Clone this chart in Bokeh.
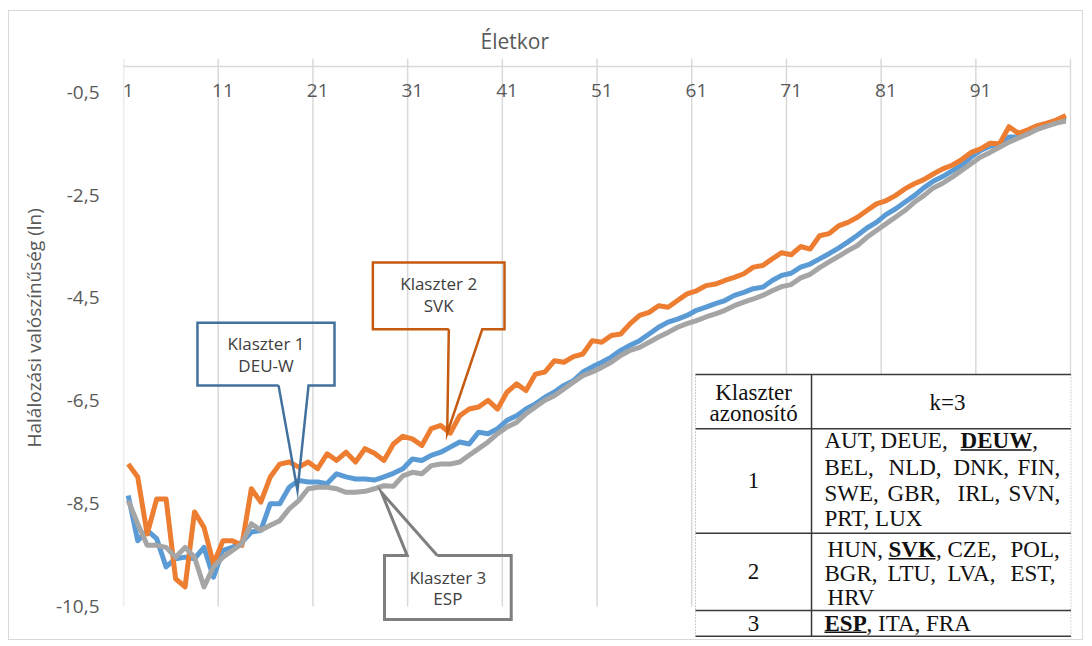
from bokeh.plotting import figure
from bokeh.models import FixedTicker, Range1d, Title
from bokeh.core.properties import value
from bokeh.embed import file_html
from bokeh.resources import INLINE

# ---------------- data ----------------
ages = list(range(1, 101))

klaszter1_deuw = [
    -8.34, -9.22, -9.02, -9.18, -9.73, -9.57, -9.54, -9.57, -9.35, -9.93,
    -9.41, -9.35, -9.25, -9.05, -9.02, -8.50, -8.50, -8.18, -8.05, -8.08,
    -8.08, -8.11, -7.92, -7.98, -8.02, -8.02, -8.04, -7.98, -7.91, -7.82,
    -7.63, -7.66, -7.56, -7.50, -7.40, -7.30, -7.34, -7.11, -7.14, -7.04,
    -6.88, -6.79, -6.66, -6.56, -6.43, -6.33, -6.20, -6.11, -5.94, -5.84,
    -5.75, -5.65, -5.52, -5.42, -5.33, -5.20, -5.07, -4.97, -4.91, -4.84,
    -4.74, -4.68, -4.61, -4.55, -4.45, -4.39, -4.32, -4.29, -4.16, -4.06,
    -4.02, -3.90, -3.84, -3.74, -3.64, -3.53, -3.41, -3.28, -3.14, -3.03,
    -2.88, -2.77, -2.64, -2.51, -2.36, -2.23, -2.14, -2.03, -1.92, -1.76,
    -1.63, -1.55, -1.50, -1.37, -1.37, -1.28, -1.19, -1.13, -1.06, -1.00,
]

klaszter2_svk = [
    -7.73, -7.98, -9.09, -8.41, -8.41, -9.96, -10.12, -8.66, -8.96, -9.67,
    -9.22, -9.22, -9.31, -8.21, -8.47, -7.98, -7.73, -7.69, -7.79, -7.69,
    -7.82, -7.53, -7.66, -7.50, -7.69, -7.43, -7.52, -7.66, -7.34, -7.19,
    -7.24, -7.37, -7.04, -6.98, -7.13, -6.79, -6.66, -6.62, -6.49, -6.66,
    -6.33, -6.17, -6.30, -5.98, -5.94, -5.72, -5.75, -5.64, -5.59, -5.33,
    -5.36, -5.23, -5.20, -5.00, -4.84, -4.78, -4.65, -4.68, -4.55, -4.42,
    -4.36, -4.26, -4.23, -4.16, -4.10, -4.03, -3.90, -3.87, -3.74, -3.62,
    -3.66, -3.50, -3.55, -3.29, -3.25, -3.10, -3.03, -2.93, -2.80, -2.67,
    -2.61, -2.51, -2.38, -2.28, -2.20, -2.09, -1.99, -1.92, -1.81, -1.67,
    -1.60, -1.49, -1.50, -1.17, -1.30, -1.23, -1.15, -1.10, -1.04, -0.95,
]

klaszter3_esp = [
    -8.44, -8.89, -9.31, -9.31, -9.35, -9.54, -9.35, -9.54, -10.12, -9.73,
    -9.54, -9.41, -9.28, -8.89, -9.02, -8.92, -8.83, -8.60, -8.44, -8.21,
    -8.18, -8.18, -8.21, -8.28, -8.28, -8.26, -8.21, -8.15, -8.16, -7.96,
    -7.89, -7.92, -7.76, -7.73, -7.73, -7.69, -7.56, -7.43, -7.30, -7.14,
    -7.01, -6.92, -6.75, -6.62, -6.49, -6.40, -6.27, -6.14, -6.01, -5.94,
    -5.85, -5.75, -5.62, -5.52, -5.46, -5.36, -5.26, -5.17, -5.07, -5.00,
    -4.94, -4.87, -4.81, -4.74, -4.65, -4.58, -4.52, -4.45, -4.36, -4.28,
    -4.24, -4.11, -4.04, -3.91, -3.80, -3.69, -3.58, -3.48, -3.32, -3.19,
    -3.06, -2.93, -2.80, -2.64, -2.51, -2.36, -2.27, -2.15, -2.02, -1.89,
    -1.76, -1.67, -1.57, -1.47, -1.39, -1.31, -1.22, -1.16, -1.10, -1.06,
]

x_tick_ages = [1, 11, 21, 31, 41, 51, 61, 71, 81, 91]
x_tick_labels = ["1", "11", "21", "31", "41", "51", "61", "71", "81", "91"]
x_grid = [0.5, 10.5, 20.5, 30.5, 40.5, 50.5, 60.5, 70.5, 80.5, 90.5, 100.5]
y_ticks = [-0.5, -2.5, -4.5, -6.5, -8.5, -10.5]
y_tick_labels = ["-0,5", "-2,5", "-4,5", "-6,5", "-8,5", "-10,5"]
y_axis_top = 0.0

x_title = "Életkor"
y_title = "Halálozási valószínűség (ln)"

callout_titles = ["Klaszter 1", "Klaszter 2", "Klaszter 3"]
callout_names = ["DEU-W", "SVK", "ESP"]

table_head = ["Klaszter", "azonosító", "k=3"]
table_ids = ["1", "2", "3"]

# ---------------- figure ----------------
TXT = "#595959"
GRID = "#d9d9d9"
BLUE, ORANGE, GRAY = "#5B9BD5", "#ED7D31", "#A5A5A5"
TICK_LEN = 0.156  # outward tick length (in data units, ~8px)

p = figure(width=1075, height=630,
           x_range=Range1d(0.5, 100.6), y_range=Range1d(-11.18, TICK_LEN),
           output_backend="svg", toolbar_location=None,
           x_axis_location=None,
           min_border_left=114, min_border_right=13,
           min_border_top=47, min_border_bottom=0)
p.styles = {"border": "1px solid #d9d9d9", "margin-left": "8px", "margin-top": "10px"}
p.outline_line_color = None
p.background_fill_color = "white"
p.border_fill_color = "white"
p.grid.visible = False

# horizontal axis title
p.title.text = x_title
p.title.text_font = "Open Sans"
p.title.text_font_size = "21px"
p.title.text_font_style = "normal"
p.title.text_color = TXT
p.title.align = "left"
p.title.offset = 357
try:
    p.title.standoff = 8
except Exception:
    pass

# y axis
ya = p.yaxis[0]
ya.ticker = FixedTicker(ticks=y_ticks)
ya.major_label_overrides = dict(zip(y_ticks, y_tick_labels))
ya.major_label_text_font = "Open Sans"
ya.major_label_text_font_size = "19px"
ya.major_label_text_color = TXT
ya.axis_line_color = None
ya.major_tick_line_color = None
ya.minor_tick_line_color = None
ya.major_label_standoff = 18

# vertical axis title (placed as a left title so that it can be offset)
yt = Title(text=y_title, align="left", offset=194,
           text_font="Open Sans", text_font_size="19px",
           text_font_style="normal", text_color=TXT)
try:
    yt.standoff = 12
except Exception:
    pass
p.add_layout(yt, "left")

# vertical gridlines (continuing above the axis line as tick marks)
p.segment(x0=x_grid, y0=[min(y_ticks)] * len(x_grid), x1=x_grid,
          y1=[TICK_LEN] * len(x_grid), line_color=GRID, line_width=1.5)
# horizontal axis line at the top
p.segment(x0=[x_grid[0]], y0=[y_axis_top], x1=[x_grid[-1]], y1=[y_axis_top],
          line_color=GRID, line_width=1.5)

# category labels under the top axis
p.text(x=x_tick_ages, y=[-0.47] * len(x_tick_ages), text=x_tick_labels,
       text_font=value("Open Sans"), text_font_size="19px", text_color=TXT,
       text_align="center", text_baseline="middle")

# series
for ys, col in [(klaszter1_deuw, BLUE), (klaszter2_svk, ORANGE), (klaszter3_esp, GRAY)]:
    p.line(ages, ys, line_color=col, line_width=5, line_join="round")

# ---------------- callouts ----------------
def callout(left, right, top_, bottom, b0, b1, tip, pointer="bottom"):
    tx, ty = tip
    if pointer == "bottom":
        xs = [b0, left, left, right, right, b1, tx, b0]
        ys = [bottom, bottom, top_, top_, bottom, bottom, ty, bottom]
    else:
        xs = [b1, right, right, left, left, b0, tx, b1]
        ys = [top_, top_, bottom, bottom, top_, top_, ty, top_]
    return xs, ys

callouts = [
    # left, right, top, bottom, base0, base1, tip, side, color, text x, text ys
    (8.31, 22.78, -4.98, -6.20, 16.87, 20.04, (18.87, -8.24), "bottom", "#41719C", 15.55, (-5.39, -5.81)),
    (26.83, 40.73, -3.81, -5.11, 34.85, 38.38, (34.68, -7.13), "bottom", "#C55A11", 33.78, (-4.22, -4.65)),
    (28.06, 41.44, -9.51, -10.75, 30.46, 33.63, (27.74, -8.28), "top", "#7F7F7F", 34.75, (-9.93, -10.34)),
]
for i, (l, r, t, b, b0, b1, tip, side, col, tx, tys) in enumerate(callouts):
    xs, ys = callout(l, r, t, b, b0, b1, tip, side)
    p.line(xs, ys, line_color=col, line_width=2.5 if i < 2 else 3, line_join="miter")
    p.text(x=[tx, tx], y=list(tys), text=[callout_titles[i], callout_names[i]],
           text_font=value("Open Sans"), text_font_size="17px", text_color="#404040",
           text_align="center", text_baseline="middle")

# ---------------- table ----------------
T_L, T_C, T_R = 60.90, 73.15, 100.55
T_TOP, T_H, T_R1, T_R2, T_BOT = -5.99, -7.045, -9.075, -10.577, -11.077
p.quad(left=[T_L], right=[T_R], top=[T_TOP], bottom=[T_BOT],
       fill_color="white", line_color=None)
DARK = "#3a3a3a"
p.segment(x0=[T_L] * 5, x1=[T_R] * 5,
          y0=[T_TOP, T_H, T_R1, T_R2, T_BOT], y1=[T_TOP, T_H, T_R1, T_R2, T_BOT],
          line_color=DARK, line_width=1.5)
p.segment(x0=[T_C], x1=[T_C], y0=[T_TOP], y1=[T_BOT], line_color=DARK, line_width=1.5)
p.segment(x0=[T_L, T_R], x1=[T_L, T_R], y0=[T_TOP, T_TOP], y1=[T_BOT, T_BOT],
          line_color="#9a9a9a", line_width=1, line_dash="1 2")

SERIF = value("Liberation Serif")
FS = "23px"
TCOL = "#111111"
p.text(x=[67.03, 67.03, 87.51, 67.03, 67.03, 67.03],
       y=[-6.333, -6.753, -6.527, -8.050, -9.819, -10.836],
       text=table_head + table_ids,
       text_font=SERIF, text_font_size=FS, text_color=TCOL,
       text_align="center", text_baseline="middle")

plain_words = [
    ("AUT,", 74.52, -7.272), ("DEUE,", 80.44, -7.272), (",", 96.45, -7.272),
    ("BEL,", 74.52, -7.791), ("NLD,", 81.28, -7.791), ("DNK,", 88.14, -7.791), ("FIN,", 94.90, -7.791),
    ("SWE,", 74.52, -8.302), ("GBR,", 81.18, -8.302), ("IRL,", 88.57, -8.302), ("SVN,", 93.95, -8.302),
    ("PRT, LUX", 74.52, -8.794),
    ("HUN,", 74.84, -9.397), (",", 86.30, -9.397), ("CZE,", 87.51, -9.397), ("POL,", 94.16, -9.397),
    ("BGR,", 74.52, -9.864), ("LTU,", 81.18, -9.864), ("LVA,", 87.51, -9.864), ("EST,", 94.16, -9.864),
    ("HRV", 74.84, -10.331),
    (", ITA, FRA", 78.96, -10.836),
]
p.text(x=[w[1] for w in plain_words], y=[w[2] for w in plain_words],
       text=[w[0] for w in plain_words],
       text_font=SERIF, text_font_size=FS, text_color=TCOL,
       text_align="left", text_baseline="middle")

bold_words = [("DEUW", 88.89, -7.272), ("SVK", 81.28, -9.397), ("ESP", 74.52, -10.836)]
p.text(x=[w[1] for w in bold_words], y=[w[2] for w in bold_words],
       text=[w[0] for w in bold_words],
       text_font=SERIF, text_font_size=FS, text_font_style="bold", text_color=TCOL,
       text_align="left", text_baseline="middle")
p.segment(x0=[88.89, 81.28, 74.52], x1=[96.38, 86.24, 78.96],
          y0=[-7.457, -9.572, -10.999], y1=[-7.457, -9.572, -10.999],
          line_color=TCOL, line_width=1.5)

open("out.html", "w").write(file_html(p, INLINE))
